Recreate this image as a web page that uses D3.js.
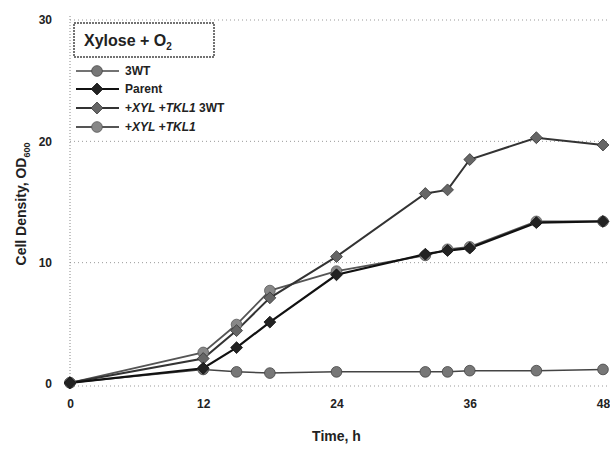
<!DOCTYPE html>
<html><head><meta charset="utf-8">
<script src="https://cdn.jsdelivr.net/npm/d3@7"></script>
<style>body{margin:0;background:#fff}svg{display:block}text{font-family:"Liberation Sans",Arial,sans-serif;font-weight:bold;fill:#222}</style>
</head><body>
<svg id="c" width="610" height="449"></svg>
<script>
const times = [0, 12, 15, 18, 24, 32, 34, 36, 42, 48];
const seriesNames = ["3WT", "Parent", "+XYL +TKL1 3WT", "+XYL +TKL1"];
const wt3 = [0.1, 1.2, 1.0, 0.9, 1.0, 1.0, 1.0, 1.1, 1.1, 1.2];
const parent = [0.1, 1.3, 3.0, 5.1, 9.0, 10.7, 11.0, 11.2, 13.3, 13.4];
const xylTkl3wt = [0.1, 2.1, 4.4, 7.1, 10.5, 15.7, 16.0, 18.5, 20.3, 19.7];
const xylTkl = [0.1, 2.6, 4.9, 7.7, 9.3, 10.6, 11.1, 11.3, 13.4, 13.4];
const xTicks = [0, 12, 24, 36, 48];
const yTicks = [0, 10, 20, 30];

const svg = d3.select("#c");
const x = d3.scaleLinear().domain([0, 48]).range([70, 603]);
const y = d3.scaleLinear().domain([0, 30]).range([384, 20]);

svg.append("g").selectAll("line").data(yTicks.filter(d => d > 0)).join("line")
  .attr("x1", x(0)).attr("x2", 610).attr("y1", d => y(d)).attr("y2", d => y(d))
  .attr("stroke", "#999").attr("stroke-width", 1).attr("stroke-dasharray", "1,3");
svg.append("line").attr("x1", x(0)).attr("x2", x(0)).attr("y1", y(30) - 4).attr("y2", y(0) + 2)
  .attr("stroke", "#888").attr("stroke-dasharray", "1,2");
svg.append("line").attr("x1", x(0)).attr("x2", 610).attr("y1", y(0) + 2).attr("y2", y(0) + 2)
  .attr("stroke", "#999").attr("stroke-dasharray", "1,3");

const xAxis = svg.append("g").attr("transform", `translate(0,${y(0) + 2})`)
  .call(d3.axisBottom(x).tickValues(xTicks).tickSize(0).tickPadding(13));
xAxis.select(".domain").remove();
xAxis.selectAll("text").attr("font-size", 12).style("font-family", "Liberation Sans, Arial").style("font-weight", "bold").attr("fill", "#222");
const yAxis = svg.append("g").attr("transform", `translate(${x(0)},0)`)
  .call(d3.axisLeft(y).tickValues(yTicks).tickSize(0).tickPadding(18));
yAxis.select(".domain").remove();
yAxis.selectAll("text").attr("font-size", 12).style("font-family", "Liberation Sans, Arial").style("font-weight", "bold").attr("fill", "#222");

svg.append("text").attr("x", x(24)).attr("y", 441).attr("text-anchor", "middle").attr("font-size", 14).text("Time, h");
const yl = svg.append("text").attr("transform", `translate(26,${y(15) + 2}) rotate(-90)`)
  .attr("text-anchor", "middle").attr("font-size", 14);
yl.append("tspan").text("Cell Density, OD");
yl.append("tspan").attr("font-size", 9).attr("dy", 4).text("600");

const data = [
  {name: seriesNames[0], vals: wt3, stroke: "#444", fill: "#777", sym: d3.symbolCircle, w: 1.5, size: 90},
  {name: seriesNames[1], vals: parent, stroke: "#111", fill: "#222", sym: d3.symbolDiamond2, w: 2.2, size: 90},
  {name: seriesNames[2], vals: xylTkl3wt, stroke: "#333", fill: "#666", sym: d3.symbolDiamond2, w: 2, size: 90},
  {name: seriesNames[3], vals: xylTkl, stroke: "#555", fill: "#888", sym: d3.symbolCircle, w: 1.8, size: 90}
];
const line = d3.line().x((d, i) => x(times[i])).y(d => y(d));
const order = [3, 2, 0, 1];
order.forEach(k => {
  const s = data[k];
  svg.append("path").datum(s.vals).attr("d", line).attr("fill", "none")
    .attr("stroke", s.stroke).attr("stroke-width", s.w);
});
order.forEach(k => {
  const s = data[k];
  svg.append("g").selectAll("path").data(s.vals).join("path")
    .attr("transform", (d, i) => `translate(${x(times[i])},${y(d)})`)
    .attr("d", d3.symbol().type(s.sym).size(s.size))
    .attr("fill", s.fill).attr("stroke", s.stroke).attr("stroke-width", 0.8);
});

const lg = svg.append("g");
lg.append("rect").attr("x", 74).attr("y", 23).attr("width", 140).attr("height", 34)
  .attr("fill", "#fff").attr("stroke", "#444").attr("stroke-width", 1.5).attr("stroke-dasharray", "2,1");
const tt = lg.append("text").attr("x", 84).attr("y", 46).attr("font-size", 16);
tt.append("tspan").text("Xylose + O");
tt.append("tspan").attr("font-size", 10).attr("dy", 4).text("2");
const legY = [71, 89, 108, 127];
data.forEach((s, i) => {
  const g = lg.append("g").attr("transform", `translate(0,${legY[i]})`);
  g.append("line").attr("x1", 76).attr("x2", 119).attr("stroke", s.stroke).attr("stroke-width", s.w);
  g.append("path").attr("transform", "translate(97,0)")
    .attr("d", d3.symbol().type(s.sym).size(s.size))
    .attr("fill", s.fill).attr("stroke", s.stroke).attr("stroke-width", 0.8);
  const t = g.append("text").attr("x", 125).attr("y", 4).attr("font-size", 12);
  if (s.name.startsWith("+")) {
    t.append("tspan").text("+");
    t.append("tspan").attr("font-style", "italic").text("XYL");
    t.append("tspan").text(" +");
    t.append("tspan").attr("font-style", "italic").text("TKL1");
    if (s.name.endsWith("3WT")) t.append("tspan").text(" 3WT");
  } else t.text(s.name);
});
</script>
</body></html>
